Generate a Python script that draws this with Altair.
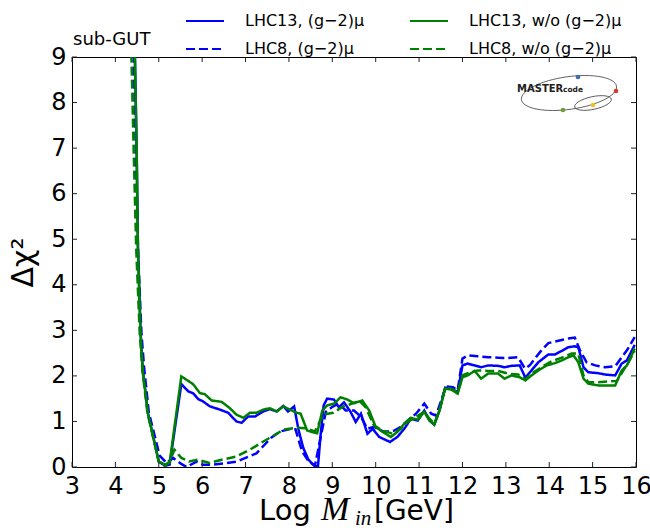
import altair as alt
import pandas as pd

# ---------------- data ----------------
SERIES = ["LHC13, (g−2)μ", "LHC13, w/o (g−2)μ", "LHC8, (g−2)μ", "LHC8, w/o (g−2)μ"]
COLORS = ["#0000ff", "#008000", "#0000ff", "#008000"]
DASHES = [[1, 0], [1, 0], [9, 4], [9, 4]]

# LHC13, (g-2)_mu  (blue solid)
BS_X = [4.40, 4.45, 4.49, 4.52, 4.58, 4.63, 4.75, 5.00, 5.14, 5.25, 5.52, 5.68, 5.79, 5.91, 6.02,
        6.18, 6.41, 6.60, 6.79, 6.91, 7.06, 7.22, 7.41, 7.56, 7.72, 7.87, 7.98, 8.12, 8.22, 8.33,
        8.45, 8.60, 8.67, 8.73, 8.80, 8.88, 9.04, 9.15, 9.27, 9.42, 9.54, 9.66, 9.81, 9.93, 10.08,
        10.33, 10.50, 10.66, 10.81, 10.97, 11.12, 11.24, 11.35, 11.47, 11.60, 11.74, 11.89, 12.00, 12.12, 12.28,
        12.43, 12.59, 12.82, 12.97, 13.13, 13.32, 13.45, 13.59, 13.75, 13.98, 14.13, 14.29, 14.44, 14.59, 14.67,
        14.79, 14.90, 15.13, 15.29, 15.52, 15.67, 15.79, 15.97]
BS_Y = [10.5, 9.0, 7.0, 4.8, 2.95, 2.14, 1.18, 0.12, 0.03, 0.05, 1.82, 1.66, 1.62, 1.49, 1.44,
        1.33, 1.26, 1.19, 1.00, 0.97, 1.11, 1.11, 1.22, 1.27, 1.22, 1.34, 1.22, 1.33, 0.82, 0.42,
        0.16, 0.01, 0.02, 0.70, 1.35, 1.50, 1.48, 1.31, 1.42, 1.21, 0.99, 1.17, 0.73, 0.84, 0.66,
        0.55, 0.66, 0.84, 1.06, 1.02, 1.24, 1.02, 0.93, 1.24, 1.74, 1.72, 1.64, 2.23, 2.27, 2.23,
        2.19, 2.23, 2.22, 2.19, 2.22, 2.23, 1.96, 2.12, 2.30, 2.47, 2.47, 2.55, 2.63, 2.65, 2.63,
        2.19, 2.08, 2.06, 2.03, 2.01, 2.27, 2.34, 2.68]

# LHC8, (g-2)_mu  (blue dashed)
BD_X = [4.38, 4.42, 4.47, 4.52, 4.60, 4.66, 4.77, 5.02, 5.18, 5.33, 5.50, 5.64, 5.87, 6.02, 6.22,
        6.50, 6.80, 7.00, 7.25, 7.40, 7.60, 7.80, 8.00, 8.15, 8.30, 8.45, 8.60, 8.72, 8.85, 9.00,
        9.15, 9.31, 9.50, 9.66, 9.81, 9.96, 10.20, 10.43, 10.58, 10.74, 10.93, 11.12, 11.28, 11.39, 11.51,
        11.62, 11.78, 11.89, 12.00, 12.12, 12.35, 12.59, 12.82, 13.05, 13.28, 13.44, 13.55, 13.67, 13.82, 13.98,
        14.21, 14.44, 14.59, 14.71, 14.86, 15.06, 15.29, 15.52, 15.67, 15.79, 15.97]
BD_Y = [10.5, 9.0, 7.0, 4.8, 2.95, 2.20, 1.20, 0.25, 0.09, 0.20, 0.08, 0.00, 0.12, 0.05, 0.05,
        0.08, 0.12, 0.20, 0.30, 0.45, 0.65, 0.78, 0.83, 0.83, 0.35, 0.13, 0.03, 0.60, 1.21, 1.32,
        1.39, 1.24, 1.24, 1.10, 0.84, 0.88, 0.77, 0.80, 0.88, 1.02, 1.17, 1.39, 1.17, 1.13, 1.46,
        1.77, 1.75, 1.68, 2.38, 2.45, 2.43, 2.41, 2.40, 2.39, 2.41, 2.16, 2.23, 2.38, 2.56, 2.72,
        2.77, 2.82, 2.84, 2.56, 2.30, 2.23, 2.19, 2.21, 2.41, 2.56, 2.85]

# LHC13, w/o (g-2)_mu  (green solid)
GS_X = [4.40, 4.45, 4.49, 4.52, 4.58, 4.63, 4.75, 5.00, 5.14, 5.25, 5.52, 5.79, 5.95, 6.06, 6.22,
        6.45, 6.64, 6.79, 6.95, 7.10, 7.25, 7.41, 7.56, 7.72, 7.87, 8.02, 8.18, 8.27, 8.42, 8.65,
        8.77, 8.88, 9.04, 9.19, 9.35, 9.50, 9.69, 9.85, 10.00, 10.16, 10.35, 10.50, 10.66, 10.81, 10.97,
        11.12, 11.24, 11.35, 11.47, 11.60, 11.74, 11.89, 12.00, 12.12, 12.28, 12.43, 12.59, 12.82, 12.97, 13.13,
        13.32, 13.45, 13.59, 13.75, 13.94, 14.13, 14.29, 14.44, 14.56, 14.67, 14.79, 14.90, 15.13, 15.29, 15.52,
        15.67, 15.79, 15.97]
GS_Y = [10.5, 9.0, 7.0, 4.8, 2.95, 2.14, 1.18, 0.12, 0.05, 0.09, 1.99, 1.82, 1.62, 1.60, 1.46,
        1.43, 1.29, 1.15, 1.08, 1.19, 1.19, 1.26, 1.29, 1.22, 1.33, 1.26, 1.19, 1.17, 0.80, 0.74,
        1.24, 1.35, 1.39, 1.53, 1.48, 1.40, 1.46, 1.24, 0.88, 0.77, 0.66, 0.77, 0.95, 1.08, 1.04,
        1.21, 1.02, 0.93, 1.24, 1.72, 1.70, 1.61, 1.97, 2.01, 2.11, 1.94, 2.05, 2.05, 1.94, 2.01,
        1.97, 1.90, 2.01, 2.12, 2.23, 2.28, 2.34, 2.41, 2.45, 2.30, 1.94, 1.83, 1.79, 1.79, 1.79,
        2.12, 2.23, 2.60]

# LHC8, w/o (g-2)_mu  (green dashed)
GD_X = [4.33, 4.37, 4.42, 4.48, 4.56, 4.62, 4.74, 5.00, 5.14, 5.25, 5.36, 5.52, 5.70, 5.90, 6.17,
        6.45, 6.79, 7.10, 7.41, 7.72, 7.87, 8.18, 8.40, 8.60, 8.79, 9.02, 9.25, 9.46, 9.62, 9.77,
        9.96, 10.16, 10.39, 10.58, 10.74, 10.93, 11.12, 11.24, 11.35, 11.47, 11.60, 11.74, 11.89, 12.00, 12.12,
        12.35, 12.59, 12.82, 13.05, 13.28, 13.45, 13.59, 13.82, 14.05, 14.29, 14.52, 14.67, 14.79, 14.90, 15.13,
        15.37, 15.56, 15.71, 15.83, 15.97]
GD_Y = [10.5, 9.0, 7.0, 4.8, 2.95, 2.14, 1.18, 0.12, 0.03, 0.12, 0.38, 0.20, 0.12, 0.16, 0.09,
        0.16, 0.23, 0.38, 0.56, 0.73, 0.82, 0.86, 0.85, 0.78, 1.15, 1.19, 1.33, 1.39, 1.46, 1.31,
        0.91, 0.80, 0.73, 0.84, 0.99, 1.10, 1.21, 1.06, 0.95, 1.24, 1.74, 1.72, 1.64, 2.01, 2.06,
        2.12, 2.11, 2.11, 2.05, 2.03, 1.92, 2.05, 2.19, 2.32, 2.40, 2.49, 2.49, 2.01, 1.86, 1.86,
        1.88, 1.89, 2.12, 2.30, 2.55]

X_TICKS = list(range(3, 17))
Y_TICKS = list(range(0, 10))

# ---------------- build table ----------------
frames = []
for name, xs, ys in [(SERIES[0], BS_X, BS_Y), (SERIES[2], BD_X, BD_Y),
                     (SERIES[1], GS_X, GS_Y), (SERIES[3], GD_X, GD_Y)]:
    assert len(xs) == len(ys), name
    frames.append(pd.DataFrame({"x": xs, "y": ys, "series": name}))
df = pd.concat(frames, ignore_index=True)

W, H = 564, 410
FONT = "DejaVu Sans"

x_scale = alt.Scale(domain=[3, 16], nice=False, zero=False)
y_scale = alt.Scale(domain=[0, 9], nice=False, zero=False)

ax_x = alt.Axis(values=X_TICKS, format="d", ticks=False, domain=False, grid=False,
                labelFont=FONT, labelFontSize=24, labelColor="black", labelPadding=7,
                labelFlush=False, labelOverlap=False, title=None)
ax_y = alt.Axis(values=Y_TICKS, format="d", ticks=False, domain=False, grid=False,
                labelFont=FONT, labelFontSize=24, labelColor="black", labelPadding=6,
                labelFlush=False, labelOverlap=False,
                title="Δχ²", titleFont=FONT, titleFontSize=30, titleFontWeight="normal",
                titleColor="black", titlePadding=12)

X_ENC = alt.X("x:Q", scale=x_scale, axis=ax_x)
Y_ENC = alt.Y("y:Q", scale=y_scale, axis=ax_y)

legend = alt.Legend(orient="none", legendX=113, legendY=-56, columns=2, direction="horizontal",
                    symbolType="stroke", symbolSize=1444, symbolStrokeWidth=2,
                    labelFont=FONT, labelFontSize=16, labelColor="black", labelOffset=20,
                    columnPadding=41, rowPadding=-10, padding=0, title=None, labelLimit=300)

lines = alt.Chart(df).mark_line(strokeWidth=2.5, clip=True).encode(
    x=X_ENC,
    y=Y_ENC,
    color=alt.Color("series:N", scale=alt.Scale(domain=SERIES, range=COLORS), legend=legend),
    strokeDash=alt.StrokeDash("series:N", scale=alt.Scale(domain=SERIES, range=DASHES), legend=legend),
)

xt = pd.DataFrame({"x": X_TICKS})
yt = pd.DataFrame({"y": Y_TICKS})
tick_style = dict(color="#222222", strokeWidth=1)
xticks_bottom = alt.Chart(xt).mark_rule(**tick_style).encode(x=X_ENC, y=alt.value(H), y2=alt.value(H - 5))
xticks_top = alt.Chart(xt).mark_rule(**tick_style).encode(x=X_ENC, y=alt.value(0), y2=alt.value(5))
yticks_left = alt.Chart(yt).mark_rule(**tick_style).encode(y=Y_ENC, x=alt.value(0), x2=alt.value(5))
yticks_right = alt.Chart(yt).mark_rule(**tick_style).encode(y=Y_ENC, x=alt.value(W - 5), x2=alt.value(W))


def txt(s, x, y, size, font=FONT, style="normal", align="left", baseline="alphabetic",
        color="black", weight="normal"):
    return alt.Chart(pd.DataFrame({"t": [s]})).mark_text(
        font=font, fontSize=size, fontStyle=style, align=align, baseline=baseline,
        color=color, fontWeight=weight).encode(text="t:N", x=alt.value(x), y=alt.value(y))


# x-axis title composed of upright and italic parts: "Log M_in[GeV]"
text_parts = [
    txt("Log", 187, 463, 29),
    txt("M", 249, 463, 34, font="Liberation Serif", style="italic"),
    txt("in", 283, 468, 21, font="Liberation Serif", style="italic"),
    txt("[GeV]", 302, 463, 28),
    txt("sub-GUT", 1, -17, 18, baseline="middle"),
    # MASTERcode logo
    txt("MASTER", 445, 35, 10, weight="bold", color="#222222"),
    txt("code", 491, 35, 7.5, weight="bold", color="#222222"),
]

ell = "M -1 0 A 1 0.34 0 1 1 1 0 A 1 0.34 0 1 1 -1 0 Z"


def ellipse(x, y, size, angle):
    return alt.Chart(pd.DataFrame({"k": [0]})).mark_point(
        shape=ell, filled=False, stroke="#444444", strokeWidth=0.8, size=size, angle=angle, opacity=1
    ).encode(x=alt.value(x), y=alt.value(y))


def dot(x, y, c):
    return alt.Chart(pd.DataFrame({"k": [0]})).mark_circle(size=22, color=c, opacity=1).encode(
        x=alt.value(x), y=alt.value(y))


logo = [
    ellipse(497, 36, 9216, 352),
    ellipse(521, 46, 1400, 348),
    dot(506, 20, "#3b6db3"),
    dot(544, 34, "#d83a2e"),
    dot(521, 48, "#f2c31a"),
    dot(491, 53, "#6e9c3b"),
]

chart = alt.layer(lines, xticks_bottom, xticks_top, yticks_left, yticks_right,
                  *logo, *text_parts).properties(
    width=W, height=H,
    autosize=alt.AutoSizeParams(type="none"),
    padding={"left": 72, "top": 57, "right": 14, "bottom": 63},
    background="white",
).configure_view(stroke="black", strokeWidth=1)

chart.save("out.html", embed_options={"renderer": "svg", "actions": False})
